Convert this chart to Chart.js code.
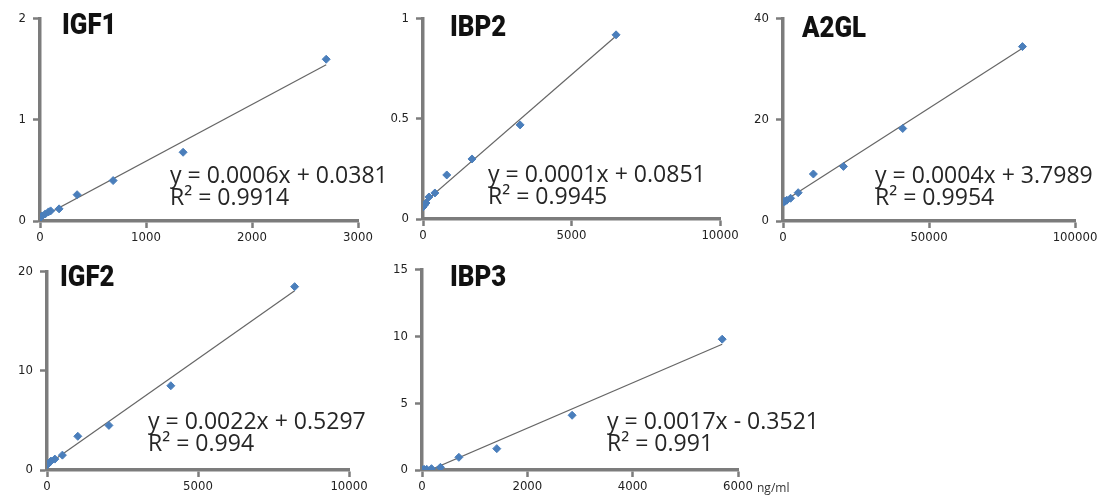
<!DOCTYPE html>
<html>
<head>
<meta charset="utf-8">
<script src="https://cdn.jsdelivr.net/npm/chart.js@4.4.1/dist/chart.umd.min.js"></script>
<style>
  body { margin: 0; background: #fff; }
  #wrap { position: relative; width: 1102px; height: 499px; overflow: hidden; }
  .panel { position: absolute; }
  .title { position: absolute; font: 900 30px Roboto, sans-serif; line-height: 30px; color: #111;
           transform: scaleX(0.86); transform-origin: left top; white-space: nowrap; }
  .eq { position: absolute; font: 24px "Open Sans", sans-serif; line-height: 22px; color: #262626;
        transform: scaleX(0.96); transform-origin: left top; white-space: nowrap; }
  .unit { position: absolute; font: 12px "Open Sans", sans-serif; color: #333; white-space: nowrap; }
</style>
</head>
<body>
<div id="wrap">
  <canvas id="igf1" class="panel"></canvas>
  <canvas id="ibp2" class="panel"></canvas>
  <canvas id="a2gl" class="panel"></canvas>
  <canvas id="igf2" class="panel"></canvas>
  <canvas id="ibp3" class="panel"></canvas>

  <div class="title" style="left:62px;top:9px">IGF1</div>
  <div class="title" style="left:450px;top:11px">IBP2</div>
  <div class="title" style="left:802px;top:12px">A2GL</div>
  <div class="title" style="left:60px;top:261px">IGF2</div>
  <div class="title" style="left:450px;top:261px">IBP3</div>

  <div class="eq" style="left:170px;top:163px">y = 0.0006x + 0.0381<br>R² = 0.9914</div>
  <div class="eq" style="left:488px;top:162px">y = 0.0001x + 0.0851<br>R² = 0.9945</div>
  <div class="eq" style="left:875px;top:163px">y = 0.0004x + 3.7989<br>R² = 0.9954</div>
  <div class="eq" style="left:148px;top:409px">y = 0.0022x + 0.5297<br>R² = 0.994</div>
  <div class="eq" style="left:607px;top:409px">y = 0.0017x - 0.3521<br>R² = 0.991</div>
  <div class="unit" style="left:757px;top:479px">ng/ml</div>
</div>

<script>
// concentration (x) vs signal (y)
const igf1X = [0, 10, 20, 50, 80, 100, 180, 350, 690, 1350, 2700];
const igf1Y = [0.03, 0.04, 0.05, 0.07, 0.09, 0.10, 0.12, 0.26, 0.40, 0.68, 1.60];

const ibp2X = [0, 50, 100, 200, 400, 800, 1650, 3270, 6500];
const ibp2Y = [0.06, 0.07, 0.08, 0.11, 0.13, 0.22, 0.30, 0.47, 0.92];

const a2glX = [330, 660, 1300, 2600, 5200, 10400, 20700, 41000, 82000];
const a2glY = [3.8, 3.9, 4.1, 4.5, 5.6, 9.3, 10.8, 18.3, 34.5];

const igf2X = [0, 60, 130, 260, 510, 1020, 2050, 4100, 8200];
const igf2Y = [0.5, 0.7, 0.9, 1.1, 1.5, 3.4, 4.5, 8.5, 18.5];

const ibp3X = [0, 40, 90, 180, 350, 700, 1420, 2850, 5700];
const ibp3Y = [0.02, 0.05, 0.05, 0.1, 0.2, 0.95, 1.6, 4.1, 9.8];

const axisColor = '#7c7c7c';
const pointColor = '#4a7ebb';

// least squares line, drawn over the range of the data like excel does
function trend(xs, ys) {
    let n = xs.length, sx = 0, sy = 0, sxx = 0, sxy = 0;
    for (let i = 0; i < n; i++) {
        sx += xs[i]; sy += ys[i];
        sxx += xs[i] * xs[i]; sxy += xs[i] * ys[i];
    }
    let m = (n * sxy - sx * sy) / (n * sxx - sx * sx);
    let b = (sy - m * sx) / n;
    let x0 = Math.min(...xs), x1 = Math.max(...xs);
    return [{x: x0, y: m * x0 + b}, {x: x1, y: m * x1 + b}];
}

function makePanel(id, xs, ys, area, xMax, xStep, yMax, yStep) {
    const yw = 45, padTop = 10, padRight = 25, xh = 29;
    const cv = document.getElementById(id);
    cv.width = (area.r - area.l) + yw + padRight;
    cv.height = (area.b - area.t) + padTop + xh;
    cv.style.left = (area.l - yw) + 'px';
    cv.style.top = (area.t - padTop) + 'px';

    let pts = xs.map((x, i) => ({x: x, y: ys[i]}));

    const tickFont = {family: "'DejaVu Sans Condensed', 'DejaVu Sans', sans-serif", size: 13};
    const gridOpts = {drawOnChartArea: false, drawTicks: true, tickLength: 7,
                      color: axisColor, tickColor: axisColor, tickWidth: 2.5};

    new Chart(cv, {
        type: 'scatter',
        data: {
            datasets: [
                {data: pts, backgroundColor: pointColor, borderColor: pointColor,
                 pointStyle: 'rectRot', pointRadius: 4, order: 1},
                {data: trend(xs, ys), showLine: true, pointRadius: 0,
                 borderColor: '#666', borderWidth: 1.2, order: 2}
            ]
        },
        options: {
            responsive: false,
            animation: false,
            layout: {padding: {top: padTop, right: padRight, left: 0, bottom: 0}},
            plugins: {legend: {display: false}, tooltip: {enabled: false}},
            scales: {
                x: {
                    type: 'linear', min: 0, max: xMax,
                    ticks: {stepSize: xStep, color: '#222', font: tickFont, padding: 2,
                            maxRotation: 0, callback: v => String(v)},
                    grid: gridOpts,
                    border: {color: axisColor, width: 3.5},
                    afterFit: s => { s.height = xh; }
                },
                y: {
                    min: 0, max: yMax,
                    ticks: {stepSize: yStep, color: '#222', font: tickFont, padding: 7,
                            callback: v => String(v)},
                    grid: gridOpts,
                    border: {color: axisColor, width: 3.5},
                    afterFit: s => { s.width = yw; }
                }
            }
        }
    });
}

makePanel('igf1', igf1X, igf1Y, {l: 40, t: 14, r: 358, b: 221}, 3000, 1000, 2, 1);
makePanel('ibp2', ibp2X, ibp2Y, {l: 423, t: 14, r: 720, b: 219}, 10000, 5000, 1, 0.5);
makePanel('a2gl', a2glX, a2glY, {l: 783, t: 14, r: 1075, b: 221}, 100000, 50000, 40, 20);
makePanel('igf2', igf2X, igf2Y, {l: 47, t: 267, r: 349, b: 470}, 10000, 5000, 20, 10);
makePanel('ibp3', ibp3X, ibp3Y, {l: 422, t: 265, r: 738, b: 470}, 6000, 2000, 15, 5);
</script>
</body>
</html>
